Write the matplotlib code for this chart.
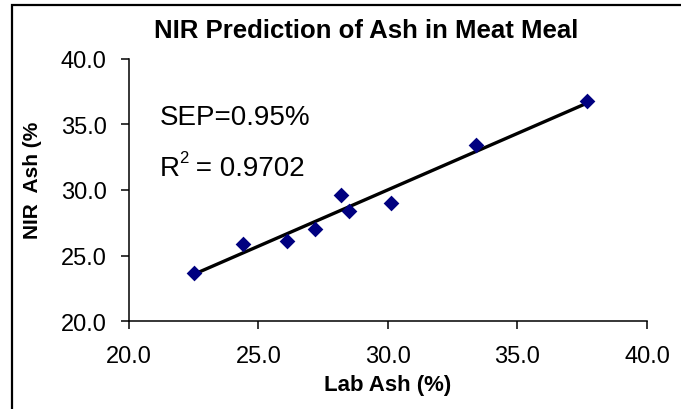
import numpy as np
import matplotlib.pyplot as plt
from matplotlib.patches import Rectangle

plt.rcParams['font.family'] = ['Liberation Sans', 'DejaVu Sans']

# Lab ash vs NIR predicted ash (%)
lab_ash = np.array([22.5, 24.4, 26.1, 27.2, 28.2, 28.5, 30.1, 33.4, 37.7])
nir_ash = np.array([23.7, 25.9, 26.1, 27.0, 29.6, 28.4, 29.0, 33.4, 36.8])
ticks = [20.0, 25.0, 30.0, 35.0, 40.0]

# linear trendline over the data range
m, c = np.polyfit(lab_ash, nir_ash, 1)
x_line = np.array([lab_ash.min(), lab_ash.max()])
y_line = m * x_line + c

fig = plt.figure(figsize=(6.81, 4.10), dpi=100)
ax = fig.add_axes([0.1894, 0.2146, 0.7606, 0.6391])

ax.plot(x_line, y_line, color="black", linewidth=2.4, zorder=2)
ax.scatter(lab_ash, nir_ash, marker="D", s=64, color="#000080", zorder=3, linewidths=0)

ax.set_xlim(20, 40)
ax.set_ylim(20, 40)
ax.set_xticks(ticks)
ax.set_yticks(ticks)
ax.set_xticklabels(["%.1f" % t for t in ticks])
ax.set_yticklabels(["%.1f" % t for t in ticks])
ax.tick_params(direction="out", length=6, width=1.1, labelsize=17, colors="black")
ax.tick_params(axis="x", pad=11)
ax.tick_params(axis="y", pad=10)

for s in ["top", "right"]:
    ax.spines[s].set_visible(False)
for s in ["left", "bottom"]:
    ax.spines[s].set_linewidth(1.1)

ax.set_xlabel("Lab Ash (%)", fontsize=16, fontweight="bold", labelpad=5)
fig.text(33 / 681, 1 - 180 / 410, "NIR  Ash (%", rotation=90, fontsize=15,
         fontweight="bold", ha="center", va="center")
fig.text(366 / 681, 1 - 31 / 410, "NIR Prediction of Ash in Meat Meal",
         fontsize=18.5, fontweight="bold", ha="center", va="center")

fig.text(160 / 681, 1 - 125 / 410, "SEP=0.95%", fontsize=20, ha="left", va="baseline")
fig.text(160 / 681, 1 - 176 / 410, "R", fontsize=20, ha="left", va="baseline")
fig.text(179 / 681, 1 - 163 / 410, "2", fontsize=12, ha="left", va="baseline")
fig.text(188 / 681, 1 - 176 / 410, " = 0.9702", fontsize=20, ha="left", va="baseline")

# chart area border (runs off the right and bottom edges)
fig.patches.append(Rectangle((11.5 / 681, -0.1), 1.2, 1 - 5.5 / 410 + 0.1,
                             transform=fig.transFigure, fill=False,
                             edgecolor="black", linewidth=1.6))

fig.savefig("out.png", dpi=100)
